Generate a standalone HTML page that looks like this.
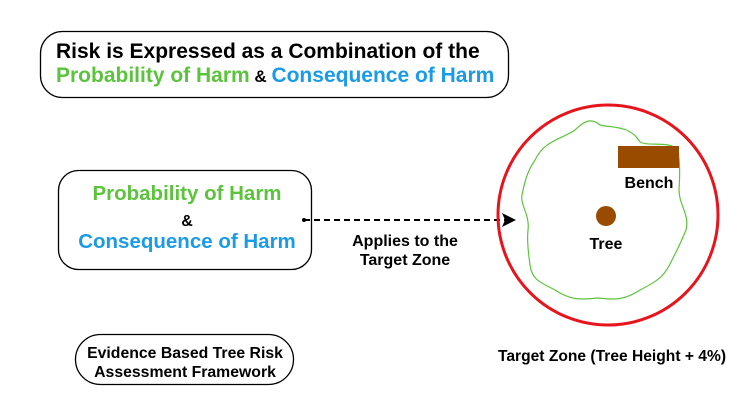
<!DOCTYPE html>
<html><head><meta charset="utf-8"><style>
html,body{margin:0;padding:0;background:#fff;}
body{width:750px;height:413px;position:relative;overflow:hidden;font-family:"Liberation Sans",Arial,sans-serif;font-weight:bold;}
</style></head><body>
<svg width="750" height="413" viewBox="0 0 750 413" xmlns="http://www.w3.org/2000/svg" style="position:absolute;left:0;top:0" font-family="Liberation Sans, Arial, sans-serif" font-weight="bold">
<rect x="40.5" y="31.5" width="468" height="66" rx="22" fill="#fff" stroke="#000" stroke-width="1.3"/>
<text x="56" y="58" font-size="21" fill="#000">Risk is Expressed as a Combination of the</text>
<text x="56" y="82" font-size="21"><tspan fill="#5cc43c">Probability of Harm</tspan><tspan fill="#000" font-size="17"> &amp; </tspan><tspan fill="#1a9be8">Consequence of Harm</tspan></text>

<rect x="58.5" y="170.5" width="253" height="99" rx="20" fill="#fff" stroke="#000" stroke-width="1.3"/>
<text x="187" y="200" font-size="20.5" fill="#5cc43c" text-anchor="middle">Probability of Harm</text>
<text x="187" y="226" font-size="16" fill="#000" text-anchor="middle">&amp;</text>
<text x="187" y="248" font-size="20.5" fill="#1a9be8" text-anchor="middle">Consequence of Harm</text>

<circle cx="304" cy="220" r="2" fill="#000"/>
<line x1="304" y1="220" x2="505" y2="220" stroke="#000" stroke-width="2" stroke-dasharray="6,4"/>
<polygon points="516,220 502,213 505,220 502,227" fill="#000"/>
<text x="405" y="246" font-size="16" fill="#000" text-anchor="middle">Applies to the</text>
<text x="405" y="265" font-size="16" fill="#000" text-anchor="middle">Target Zone</text>

<circle cx="608" cy="215" r="110" fill="none" stroke="#e8141c" stroke-width="3"/>
<path d="M535,160 C545,140 560,140 575,130 C585,120 592,118 600,125 C612,128 630,125 640,142 C650,147 668,140 678,150 C680,165 680,173 679,190 C679,205 690,215 686,230 C680,245 677,250 672,260 C665,275 660,280 640,290 C625,300 615,300 598,298 C580,300 570,300 555,290 C540,282 532,280 530,265 C528,250 527,240 528,230 C530,215 520,205 522,195 C525,180 528,170 535,160 Z" fill="none" stroke="#5cc43c" stroke-width="1.2"/>
<rect x="618" y="146" width="61" height="22" fill="#994c00"/>
<text x="649" y="188" font-size="16" fill="#000" text-anchor="middle">Bench</text>
<circle cx="606" cy="216" r="10" fill="#994c00"/>
<text x="606" y="249" font-size="16" fill="#000" text-anchor="middle">Tree</text>
<text x="612" y="361" font-size="15.6" fill="#000" text-anchor="middle">Target Zone (Tree Height + 4%)</text>

<rect x="75.5" y="334.5" width="218" height="50" rx="25" fill="#fff" stroke="#000" stroke-width="1.3"/>
<text x="185" y="358" font-size="15.8" fill="#000" text-anchor="middle">Evidence Based Tree Risk</text>
<text x="185" y="377" font-size="15.8" fill="#000" text-anchor="middle">Assessment Framework</text>
</svg>
</body></html>
